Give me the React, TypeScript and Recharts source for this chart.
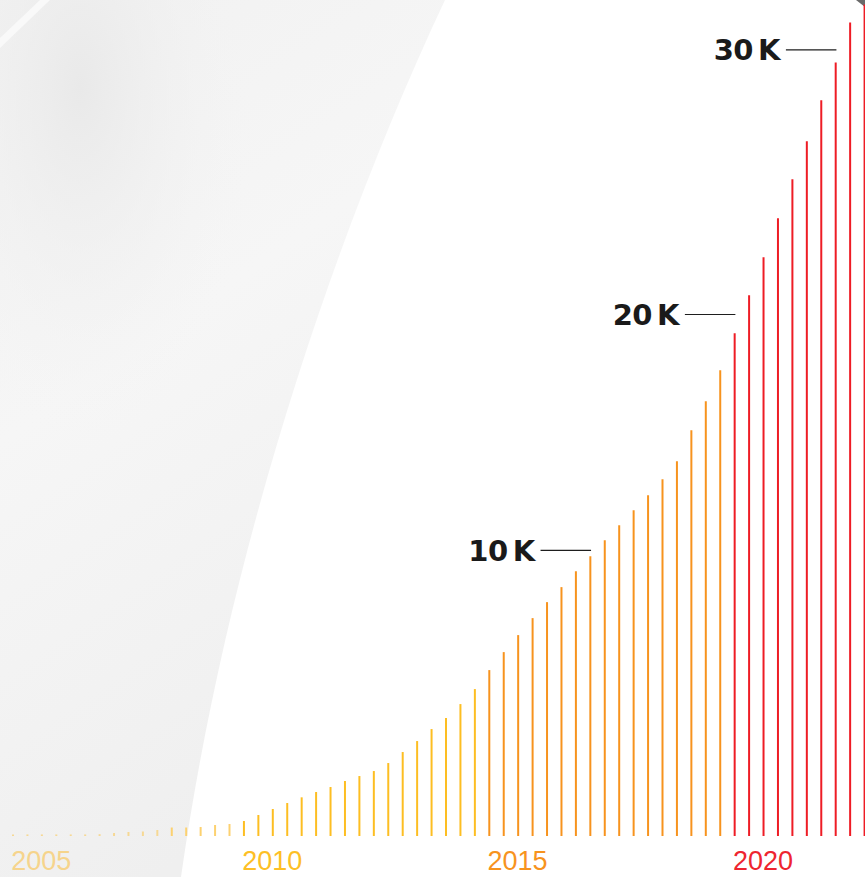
import React from 'react'
import { BarChart, Bar, XAxis, YAxis, Cell, ReferenceDot } from 'recharts'

// ---------------------------------------------------------------------------
// Data
// ---------------------------------------------------------------------------

const PERIODS = Array.from({ length: 60 }, (_, i) => `P${i + 1}`)

const VALUES = [
  60, 60, 60, 60, 60, 60, 70, 114, 153, 172,
  229, 324, 324, 343, 420, 458, 572, 801, 1030, 1259,
  1476, 1678, 1869, 2098, 2288, 2479, 2784, 3204, 3623, 4081,
  4500, 5034, 5606, 6331, 7017, 7666, 8314, 8924, 9497, 10107,
  10679, 11289, 11861, 12433, 13005, 13616, 14302, 15484, 16590, 17773,
  19184, 20633, 22082, 23570, 25057, 26506, 28070, 29519, 31045, 31731,
]

const YEAR_LABELS = ['2005', '2010', '2015', '2020']
const YEAR_START = [0, 16, 33, 50]

const MARKER_LABELS = ['10\u2009K', '20\u2009K', '30\u2009K']
const MARKER_VALUES = [10900, 19900, 30000]
const MARKER_INDEX = [40, 50, 57]

// ---------------------------------------------------------------------------

const ERA_BAR = ['#f6d894', '#fdbe22', '#f7931e', '#ee1c25']
const ERA_TEXT = ['#f6d48c', '#fdbf26', '#f7931e', '#ee2530']

const data = PERIODS.map((p, i) => ({ period: p, value: VALUES[i] }))

function eraOf(i: number) {
  let e = 0
  YEAR_START.forEach((s, k) => { if (i >= s) e = k })
  return e
}

function barColor(i: number) {
  if (i < 11) return ERA_BAR[0]
  if (i < YEAR_START[1]) return '#fcd170'
  return ERA_BAR[eraOf(i)]
}

function YearTick(props: any) {
  const { x, payload } = props
  const idx = PERIODS.indexOf(payload.value)
  const k = YEAR_START.indexOf(idx)
  if (k < 0) return null
  return (
    <text
      x={x - 2}
      y={870}
      textAnchor="start"
      fontSize={27}
      fontFamily="'Liberation Sans', Arial, sans-serif"
      fill={ERA_TEXT[k]}
    >
      {YEAR_LABELS[k]}
    </text>
  )
}

function MarkerShape(label: string) {
  return (props: any) => {
    const { cx, cy } = props
    return (
      <g>
        <line x1={cx - 50} x2={cx + 0.5} y1={cy} y2={cy} stroke="#1e1e1e" strokeWidth={1.2} />
        <text
          x={cx - 56}
          y={cy}
          dy="0.36em"
          textAnchor="end"
          fontSize={29}
          fontWeight={700}
          letterSpacing={-0.6}
          fontFamily="'DejaVu Sans', sans-serif"
          fill="#1a1a1a"
        >
          {label}
        </text>
      </g>
    )
  }
}

function Backdrop() {
  const arc = 'M0 0 L445 0 C332 240 226 560 181 877 L0 877 Z'
  return (
    <svg width={865} height={877} style={{ position: 'absolute', left: 0, top: 0 }}>
      <defs>
        <linearGradient id="bgFill" x1="0" y1="0" x2="0.35" y2="1">
          <stop offset="0" stopColor="#f1f1f1" />
          <stop offset="0.45" stopColor="#f6f6f6" />
          <stop offset="1" stopColor="#efefef" />
        </linearGradient>
        <radialGradient id="bgShade" cx="0.18" cy="0.1" r="0.4">
          <stop offset="0" stopColor="#e9e9e9" stopOpacity={1} />
          <stop offset="1" stopColor="#f4f4f4" stopOpacity={0} />
        </radialGradient>
      </defs>
      <path d={arc} fill="url(#bgFill)" />
      <path d={arc} fill="url(#bgShade)" />
      <path d="M0 38 L40 0 L50 0 L0 48 Z" fill="#fbfbfb" opacity={0.8} />
      <path d="M856 0 L865 0 L865 7 Z" fill="#6a6a6a" />
    </svg>
  )
}

export default function App() {
  return (
    <div
      style={{
        position: 'absolute',
        left: 0,
        top: 0,
        width: 865,
        height: 877,
        overflow: 'hidden',
        background: '#ffffff',
      }}
    >
      <Backdrop />
      <div style={{ position: 'absolute', left: 0, top: 0 }}>
        <BarChart
          width={872}
          height={877}
          data={data}
          margin={{ top: 0, right: 0, bottom: 0, left: 6 }}
          barSize={2}
        >
          <XAxis
            dataKey="period"
            ticks={YEAR_START.map((i) => PERIODS[i])}
            interval={0}
            tick={<YearTick />}
            axisLine={false}
            tickLine={false}
            height={41}
          />
          <YAxis hide domain={[0, 31900]} />
          <Bar dataKey="value" isAnimationActive={false}>
            {data.map((_, i) => (
              <Cell key={i} fill={barColor(i)} />
            ))}
          </Bar>
          {MARKER_LABELS.map((label, k) => (
            <ReferenceDot
              key={label}
              x={PERIODS[MARKER_INDEX[k]]}
              y={MARKER_VALUES[k]}
              shape={MarkerShape(label)}
              ifOverflow="visible"
            />
          ))}
        </BarChart>
      </div>
    </div>
  )
}
